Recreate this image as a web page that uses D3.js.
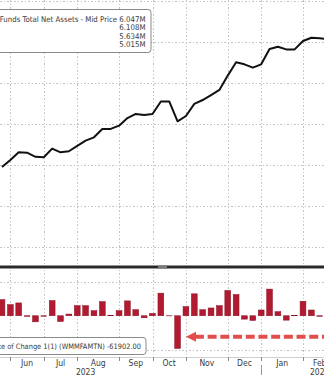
<!DOCTYPE html>
<html>
<head>
<meta charset="utf-8">
<script src="https://cdn.jsdelivr.net/npm/d3@7"></script>
<style>
    body { margin: 0; background: #fff; }
    svg { display: block; }
    text { font-family: "Liberation Sans Narrow", "DejaVu Sans Condensed", sans-serif; fill: #3a3a3a; }
    .grid line { stroke: #c4c4c4; stroke-dasharray: 1.5,2; shape-rendering: crispEdges; }
</style>
</head>
<body>
<div id="chart"></div>
<script>
// weekly observations (ICI money fund assets, Wednesdays)
var weeks = ["2023-05-31", "2023-06-07", "2023-06-14", "2023-06-21", "2023-06-28",
    "2023-07-05", "2023-07-12", "2023-07-19", "2023-07-26", "2023-08-02",
    "2023-08-09", "2023-08-16", "2023-08-23", "2023-08-30", "2023-09-06",
    "2023-09-13", "2023-09-20", "2023-09-27", "2023-10-04", "2023-10-11",
    "2023-10-18", "2023-10-25", "2023-11-01", "2023-11-08", "2023-11-15",
    "2023-11-22", "2023-11-29", "2023-12-06", "2023-12-13", "2023-12-20",
    "2023-12-27", "2024-01-03", "2024-01-10", "2024-01-17", "2024-01-24",
    "2024-01-31", "2024-02-07", "2024-02-14", "2024-02-21", "2024-02-28"];

// total net assets, millions of millions (M)
var netAssets = [5.390, 5.424, 5.462, 5.460, 5.440,
    5.438, 5.480, 5.462, 5.467, 5.493,
    5.519, 5.535, 5.576, 5.576, 5.592,
    5.629, 5.649, 5.644, 5.649, 5.710,
    5.710, 5.613, 5.639, 5.698, 5.717,
    5.741, 5.766, 5.836, 5.901, 5.891,
    5.875, 5.891, 5.966, 5.977, 5.964,
    5.964, 6.005, 6.021, 6.018, 6.014];

// rate of change 1(1), millions
var weeklyChange = [48000, 33000, 38000, -2000, -18000,
    -1500, 45000, -17000, 5000, 30000,
    30000, 15000, 42000, 800, 15000,
    44000, 18000, -6000, 7000, 67000,
    -500, -97000, 27000, 65000, 18000,
    23000, 30000, 75000, 63000, -10000,
    -14000, 17000, 79000, 12000, -13000,
    1000, 43000, 17000, -2000, -4000];

var assetTicks = [5.0, 5.2, 5.4, 5.6, 5.8, 6.0, 6.2];
var changeTicks = [-100000, 100000];
var topLegend = ["Funds Total Net Assets - Mid Price 6.047M", "6.108M", "5.634M", "5.015M"];
var bottomLegend = "Rate of Change 1(1) (WMMFAMTN) -61902.00";
var lastChange = -61902;

var width = 324, height = 375;
var parse = d3.timeParse("%Y-%m-%d");
var data = weeks.map(function (w, i) {
    return { date: parse(w), assets: netAssets[i], change: weeklyChange[i] };
});

var svg = d3.select("#chart").append("svg")
    .attr("width", width)
    .attr("height", height);

var x = d3.scaleTime()
    .domain([data[0].date, parse("2024-02-07")])
    .range([2, 303]);

var yTop = d3.scaleLinear().domain([5.0, 6.2]).range([247, 1]);
var yBot = d3.scaleLinear().domain([-100000, 100000]).range([349.5, 282]);

// first observation of every month -> grid / ticks
var monthStarts = data.filter(function (d, i) {
    return i == 0 ? false : d.date.getMonth() != data[i - 1].date.getMonth();
}).map(function (d) { return d.date; });

// grid
var grid = svg.append("g").attr("class", "grid");
grid.selectAll(".vgrid").data(monthStarts).enter().append("line")
    .attr("x1", function (d) { return Math.round(x(d)) + 0.5; })
    .attr("x2", function (d) { return Math.round(x(d)) + 0.5; })
    .attr("y1", 0).attr("y2", 357);
grid.selectAll(".hTop").data(assetTicks).enter().append("line")
    .attr("x1", 0).attr("x2", width)
    .attr("y1", function (d) { return Math.round(yTop(d)) + 0.5; })
    .attr("y2", function (d) { return Math.round(yTop(d)) + 0.5; });
grid.selectAll(".hBot").data(changeTicks).enter().append("line")
    .attr("x1", 0).attr("x2", width)
    .attr("y1", function (d) { return Math.round(yBot(d)) + 0.5; })
    .attr("y2", function (d) { return Math.round(yBot(d)) + 0.5; });

// bars
var barW = 5.8;
svg.append("g").selectAll("rect").data(data).enter().append("rect")
    .attr("x", function (d) { return x(d.date) - barW / 2; })
    .attr("width", barW)
    .attr("y", function (d) { return Math.min(yBot(d.change), yBot(0)); })
    .attr("height", function (d) { return Math.abs(yBot(d.change) - yBot(0)); })
    .attr("fill", "#b11a30")
    .attr("stroke", "#8a1022")
    .attr("stroke-width", 0.5);

// line
var line = d3.line()
    .x(function (d) { return x(d.date); })
    .y(function (d) { return yTop(d.assets); });
svg.append("path").datum(data)
    .attr("d", line)
    .attr("fill", "none")
    .attr("stroke", "#111")
    .attr("stroke-width", 2)
    .attr("stroke-linejoin", "round");

// panel separator
svg.append("rect").attr("x", 0).attr("y", 265.5).attr("width", width).attr("height", 3).attr("fill", "#2a2a2a");
svg.append("rect").attr("x", 158).attr("y", 265.5).attr("width", 9).attr("height", 3).attr("fill", "#7a7a7a");

// arrow annotation at the last change level
var defs = svg.append("defs");
defs.append("filter").attr("id", "soft")
    .append("feGaussianBlur").attr("stdDeviation", 0.6);
var ay = yBot(lastChange), ax = x(data[22].date);
var arrow = svg.append("g").attr("filter", "url(#soft)").attr("opacity", 0.92);
arrow.append("path")
    .attr("d", "M" + ax + "," + ay + "L" + (ax + 10) + "," + (ay - 5) + "L" + (ax + 10) + "," + (ay + 5) + "Z")
    .attr("fill", "#e0403d");
arrow.append("line")
    .attr("x1", ax + 9).attr("x2", width + 10)
    .attr("y1", ay).attr("y2", ay)
    .attr("stroke", "#e0403d")
    .attr("stroke-width", 4)
    .attr("stroke-dasharray", "9,3.7");

// legends
svg.append("rect").attr("x", -5).attr("y", 9.5).attr("width", 156).attr("height", 43)
    .attr("rx", 3).attr("fill", "#fff").attr("stroke", "#8a8a8a");
svg.append("g").selectAll("text").data(topLegend).enter().append("text")
    .attr("x", 145.5)
    .attr("y", function (d, i) { return 21.5 + i * 8.6; })
    .attr("text-anchor", "end")
    .attr("font-size", 7.8)
    .text(function (d) { return d; });

svg.append("rect").attr("x", -10).attr("y", 337.5).attr("width", 156).attr("height", 17)
    .attr("rx", 3).attr("fill", "#fff").attr("stroke", "#8a8a8a");
svg.append("text").attr("x", 141).attr("y", 349)
    .attr("text-anchor", "end").attr("font-size", 7.4)
    .text(bottomLegend);

// x axis
svg.append("line").attr("x1", 0).attr("x2", width).attr("y1", 357.5).attr("y2", 357.5)
    .attr("stroke", "#d0d0d0");
svg.append("g").selectAll("line").data(monthStarts).enter().append("line")
    .attr("x1", function (d) { return Math.round(x(d)) + 0.5; })
    .attr("x2", function (d) { return Math.round(x(d)) + 0.5; })
    .attr("y1", 357).attr("y2", 361)
    .attr("stroke", "#8a8a8a");

svg.append("g").selectAll("text").data(monthStarts).enter().append("text")
    .attr("x", function (d, i) {
        var next = monthStarts[i + 1] || d3.timeDay.offset(d, 28);
        return (x(d) + x(next)) / 2;
    })
    .attr("y", 366)
    .attr("text-anchor", "middle")
    .attr("font-size", 8.5)
    .text(d3.timeFormat("%b"));

var yearStart = monthStarts.filter(function (d) { return d.getMonth() == 0; })[0];
svg.append("line")
    .attr("x1", Math.round(x(yearStart)) + 0.5).attr("x2", Math.round(x(yearStart)) + 0.5)
    .attr("y1", 365).attr("y2", 375).attr("stroke", "#9a9a9a");
svg.append("text").attr("x", x(parse("2023-08-09"))).attr("y", 374.5)
    .attr("text-anchor", "middle").attr("font-size", 8.5).text("2023");
svg.append("text").attr("x", x(parse("2024-02-21"))).attr("y", 374.5)
    .attr("text-anchor", "middle").attr("font-size", 8.5).text("2024");
</script>
</body>
</html>
